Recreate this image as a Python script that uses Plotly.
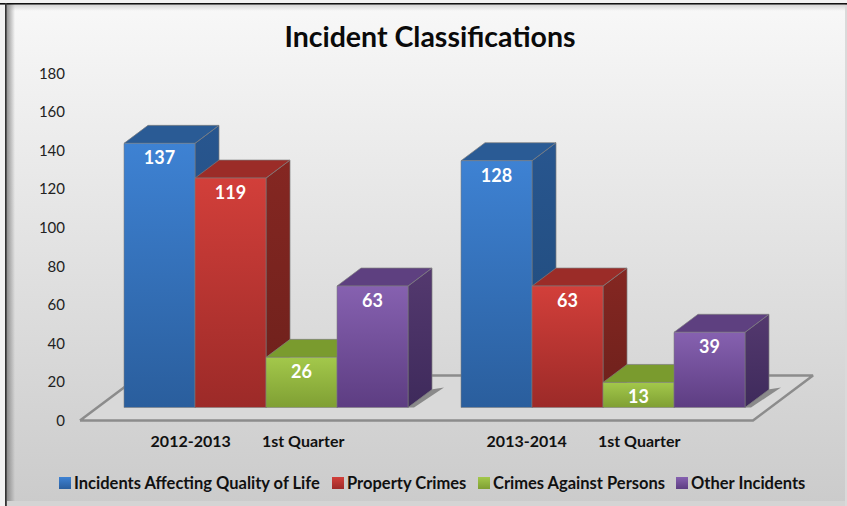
import base64
import json
import plotly.graph_objects as go

# ---- data ----
groups = ["2012-2013        1st Quarter", "2013-2014        1st Quarter"]
series_names = ["Incidents Affecting Quality of Life", "Property Crimes",
                "Crimes Against Persons", "Other Incidents"]
quality_of_life = [137, 128]
property_crimes = [119, 63]
against_persons = [26, 13]
other_incidents = [63, 39]
y_ticks = [0, 20, 40, 60, 80, 100, 120, 140, 160, 180]
series_values = [quality_of_life, property_crimes, against_persons, other_incidents]

# ---- styles ----
front_cols = [("#3E82D3", "#2A5E9D"), ("#D23F3A", "#9C2A28"),
              ("#A3C84B", "#7F9F33"), ("#8661B0", "#5D3D82")]
top_cols = ["#2A5B95", "#9B2C28", "#7A9B2E", "#5E4080"]
side_cols = [("#28568F", "#1F4978"), ("#852722", "#6C201B"),
             ("#6F8C2A", "#5D7623"), ("#54396F", "#3E2A5B")]
FONT = "Lato, Carlito, Calibri, sans-serif"
W, H = 847, 506
ML, MB = 66, 76
PW, PH = W - ML, H - MB
X0_PX, PX_X = 266, 337.0          # group 0 centre, pixels per group
Y0_PX, PX_Y = 420.5, 1.928        # value 0 pixel, pixels per unit
BASE = 13 / PX_Y                  # front plane sits above the floor's front edge
DX, DY = 24 / PX_X, 18 / PX_Y     # depth of a bar
BAR_W = 71 / PX_X
GAP = 1 - 4 * BAR_W
x_range = [(ML - X0_PX) / PX_X, (W - X0_PX) / PX_X]
y_range = [-(PH - Y0_PX) / PX_Y, Y0_PX / PX_Y]
px = lambda v: (v - X0_PX) / PX_X

fig = go.Figure()

# floor
fx0, fx1 = px(80), px(753)
fdx, fdy = 60 / PX_X, 45 / PX_Y
fig.add_trace(go.Scatter(
    x=[fx0, fx1, fx1 + fdx, fx0 + fdx, fx0], y=[0, 0, fdy, fdy, 0],
    mode="lines", fill="toself", fillcolor="#D9D9D9",
    line=dict(color="#8C8C8C", width=2.5), hoverinfo="skip", showlegend=False))

# 3D faces, back to front
for g in range(2):
    xr = g + 2 * BAR_W
    fig.add_trace(go.Scatter(
        x=[xr, xr + 23 / PX_X, xr + 36 / PX_X, xr + 6 / PX_X, xr],
        y=[BASE, BASE + 18 / PX_Y, BASE + 20 / PX_Y, BASE, BASE],
        mode="lines", fill="toself", fillcolor="rgba(85,85,85,0.6)",
        line=dict(width=0), hoverinfo="skip", showlegend=False))
    for s in range(4):
        v = series_values[s][g]
        xl = g + (s - 2) * BAR_W
        xR = xl + BAR_W
        top = BASE + v
        fig.add_trace(go.Scatter(
            x=[xR, xR + DX, xR + DX, xR, xR],
            y=[BASE, BASE + DY, top + DY, top, BASE],
            mode="lines", fill="toself",
            fillgradient=dict(type="vertical",
                              colorscale=[[0, side_cols[s][1]], [1, side_cols[s][0]]]),
            line=dict(color="rgba(125,125,125,0.7)", width=1),
            hoverinfo="skip", showlegend=False))
        fig.add_trace(go.Scatter(
            x=[xl, xl + DX, xR + DX, xR, xl],
            y=[top, top + DY, top + DY, top, top],
            mode="lines", fill="toself", fillcolor=top_cols[s],
            line=dict(color="rgba(125,125,125,0.7)", width=1),
            hoverinfo="skip", showlegend=False))

# front faces: real bars on an overlaid axis pair, so they sit above the side faces
for s, name in enumerate(series_names):
    fig.add_trace(go.Bar(
        name=name, x=[0, 1], y=series_values[s], base=[BASE, BASE],
        xaxis="x2", yaxis="y2",
        marker=dict(color=front_cols[s][1], line=dict(color="rgba(125,125,125,0.55)", width=1)),
        text=series_values[s], textposition="inside", insidetextanchor="end",
        textangle=0, constraintext="none",
        textfont=dict(family=FONT, size=18, color="white", weight="bold"),
        hovertemplate="%{y}<extra>" + name + "</extra>"))

bg_svg = f"""<svg xmlns='http://www.w3.org/2000/svg' width='{W}' height='{H}'>
<defs><linearGradient id='b' x1='0' y1='0' x2='0' y2='1'>
<stop offset='0' stop-color='#F8F8F8'/><stop offset='1' stop-color='#CBCBCB'/></linearGradient>
<linearGradient id='l' x1='0' y1='0' x2='1' y2='0'>
<stop offset='0' stop-color='#777' stop-opacity='.75'/><stop offset='1' stop-color='#777' stop-opacity='0'/></linearGradient>
<linearGradient id='t' x1='0' y1='0' x2='0' y2='1'>
<stop offset='0' stop-color='#999' stop-opacity='.35'/><stop offset='1' stop-color='#999' stop-opacity='0'/></linearGradient></defs>
<rect width='{W}' height='{H}' fill='#F2F2F2'/>
<rect x='6' y='4' width='{W-6}' height='{H-4}' fill='url(#b)'/>
<rect x='7' y='4' width='8' height='{H-4}' fill='url(#l)'/>
<rect x='7' y='5' width='{W-7}' height='6' fill='url(#t)'/>
<rect x='7' y='501' width='{W-7}' height='5' fill='#D4D4D4'/>
<rect x='845' y='4' width='2' height='{H-4}' fill='#DADADA'/>
<rect x='0' y='3' width='{W}' height='1.6' fill='#111'/>
<rect x='5' y='3' width='1.8' height='{H-3}' fill='#333'/>
</svg>"""
bg_uri = "data:image/svg+xml;base64," + base64.b64encode(bg_svg.encode()).decode()

fig.update_layout(
    width=W, height=H, autosize=False,
    margin=dict(l=ML, r=0, t=0, b=MB),
    paper_bgcolor="#F2F2F2", plot_bgcolor="rgba(0,0,0,0)",
    barmode="group", bargap=GAP, bargroupgap=0,
    title=dict(text="<b>Incident Classifications</b>", x=430 / W, xref="container", xanchor="center",
               y=1 - 37 / H, yref="container", yanchor="middle",
               font=dict(family=FONT, size=28.5, color="#0A0A0A")),
    xaxis=dict(range=x_range, showgrid=False, zeroline=False, showline=False, ticks="",
               tickvals=[px(247.5), px(583.5)], ticktext=groups,
               tickfont=dict(family=FONT, size=16, color="#111", weight="bold")),
    yaxis=dict(range=y_range, showgrid=False, zeroline=False, showline=False, ticks="",
               tickvals=y_ticks, tickfont=dict(family=FONT, size=15, color="#222")),
    xaxis2=dict(range=x_range, overlaying="x", visible=False),
    yaxis2=dict(range=y_range, overlaying="y", visible=False),
    legend=dict(orientation="h", x=0, xanchor="left", xref="container",
                y=1 - 483 / H, yref="container", yanchor="middle",
                bgcolor="rgba(0,0,0,0)", traceorder="normal",
                font=dict(family=FONT, size=16.5, color="#111", weight="bold")),
    images=[dict(source=bg_uri, xref="paper", yref="paper", x=-ML / PW, y=1,
                 sizex=W / PW, sizey=H / PH, xanchor="left", yanchor="top",
                 sizing="stretch", layer="below")],
)

post = """
document.documentElement.style.margin = '0';
document.body.style.margin = '0';
document.body.style.overflow = 'hidden';
var cols = %s, swatch = [65, 338, 484, 682], txt = 29;
function fix() {
  var svg = document.querySelector('.main-svg');
  var defs = svg.querySelector('defs');
  cols.forEach(function (c, i) {
    var id = 'frontgrad' + i;
    if (!document.getElementById(id)) {
      var lg = document.createElementNS('http://www.w3.org/2000/svg', 'linearGradient');
      lg.id = id; lg.setAttribute('x1', 0); lg.setAttribute('y1', 0);
      lg.setAttribute('x2', 0); lg.setAttribute('y2', 1);
      c.forEach(function (col, k) {
        var st = document.createElementNS('http://www.w3.org/2000/svg', 'stop');
        st.setAttribute('offset', k); st.setAttribute('stop-color', col); lg.appendChild(st);
      });
      defs.appendChild(lg);
    }
  });
  document.querySelectorAll('.barlayer .trace.bars').forEach(function (t, i) {
    t.querySelectorAll('.point path').forEach(function (p) { p.style.fill = 'url(#frontgrad' + i + ')'; });
  });
  var lg = document.querySelector('.legend');
  if (lg) {
    lg.setAttribute('transform', 'translate(0,483)');
    var sb = lg.querySelector('.scrollbox');
    if (sb) { sb.removeAttribute('clip-path'); sb.style.clipPath = 'none'; sb.setAttribute('transform', 'translate(0,0)'); }
    lg.querySelectorAll('.traces').forEach(function (t, i) {
      t.setAttribute('transform', 'translate(' + (swatch[i] - 20) + ',0)');
      t.querySelector('.legendtext').setAttribute('x', txt);
      var anyp = t.querySelector('.legendpoints path');
      if (anyp) { anyp.style.fill = 'url(#frontgrad' + i + ')'; anyp.style.stroke = 'none'; }
    });
  }
}
fix(); setTimeout(fix, 100); setTimeout(fix, 400);
""" % json.dumps(front_cols)

fig.write_html("out.html", post_script=post, config=dict(displayModeBar=False))
